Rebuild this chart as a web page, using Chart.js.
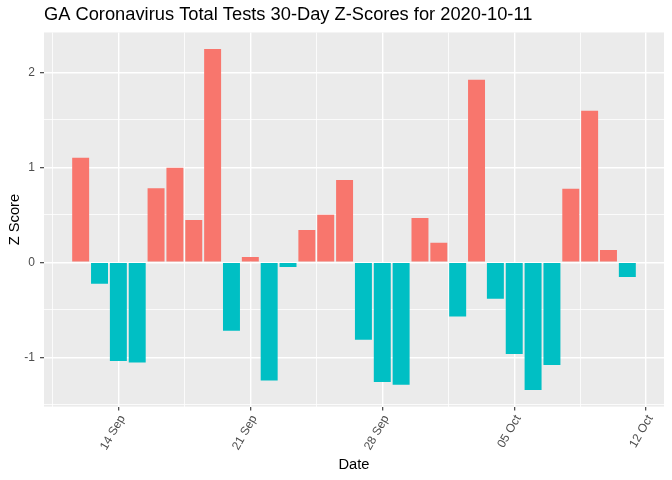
<!DOCTYPE html>
<html>
<head>
<meta charset="utf-8">
<script src="https://cdn.jsdelivr.net/npm/chart.js@4.4.1/dist/chart.umd.min.js"></script>
<style>
  html, body { margin: 0; padding: 0; background: #ffffff; }
  canvas { display: block; }
</style>
</head>
<body>
<canvas id="chart" width="672" height="480"></canvas>
<script>
// Dates of each bar (one per day)
const dates = [
  "2020-09-12", "2020-09-13", "2020-09-14", "2020-09-15", "2020-09-16",
  "2020-09-17", "2020-09-18", "2020-09-19", "2020-09-20", "2020-09-21",
  "2020-09-22", "2020-09-23", "2020-09-24", "2020-09-25", "2020-09-26",
  "2020-09-27", "2020-09-28", "2020-09-29", "2020-09-30", "2020-10-01",
  "2020-10-02", "2020-10-03", "2020-10-04", "2020-10-05", "2020-10-06",
  "2020-10-07", "2020-10-08", "2020-10-09", "2020-10-10", "2020-10-11",
]

// Z score for each day
const zScores = [
  1.10, -0.225, -1.04, -1.055, 0.78,
  0.995, 0.445, 2.245, -0.72, 0.055,
  -1.245, -0.05, 0.34, 0.50, 0.865,
  -0.815, -1.26, -1.29, 0.465, 0.205,
  -0.57, 1.92, -0.385, -0.965, -1.345,
  -1.08, 0.775, 1.595, 0.13, -0.155,
]

// x axis ticks, in days counted from the first date
const xTickDays = [2, 9, 16, 23, 30]
const xTickLabels = ["14 Sep", "21 Sep", "28 Sep", "05 Oct", "12 Oct"]
const xMinorDays = [-1.5, 5.5, 12.5, 19.5, 26.5]

// y axis ticks
const yTicks = [-1, 0, 1, 2]
const yMinorTicks = [-1.5, -0.5, 0.5, 1.5]

const posColor = "#F8766D"
const negColor = "#00BFC4"
const fontFamily = "'Liberation Sans', Arial, sans-serif"

// grey ggplot-style panel behind the bars
const panelBackground = {
  id: "panelBackground",
  beforeDraw(chart) {
    const { ctx, chartArea } = chart
    ctx.save()
    ctx.fillStyle = "#EBEBEB"
    ctx.fillRect(chartArea.left, chartArea.top, chartArea.right - chartArea.left, chartArea.bottom - chartArea.top)
    ctx.restore()
  },
}

const isMajor = (ctx) => ctx.tick && ctx.tick.major

new Chart(document.getElementById("chart"), {
  type: "bar",
  data: {
    datasets: [
      {
        data: zScores.map((v, i) => ({ x: i, y: v })),
        backgroundColor: (c) => (c.raw && c.raw.y >= 0 ? posColor : negColor),
        borderWidth: 0,
        barPercentage: 0.9,
        categoryPercentage: 1.0,
      },
    ],
  },
  options: {
    responsive: false,
    animation: false,
    devicePixelRatio: 1,
    layout: { padding: { left: 0, right: 8, top: 0, bottom: 0 } },
    plugins: {
      legend: { display: false },
      tooltip: { enabled: false },
      title: {
        display: true,
        text: "GA Coronavirus Total Tests 30-Day Z-Scores for " + dates[dates.length - 1],
        align: "start",
        fullSize: false,
        color: "#000000",
        font: { family: fontFamily, size: 18.3, weight: "normal" },
        padding: { top: 4.2, bottom: 6.3 },
      },
    },
    scales: {
      x: {
        type: "linear",
        offset: false,
        min: -1.945,
        max: 30.945,
        afterBuildTicks(scale) {
          const major = xTickDays.map((d) => ({ value: d, major: true }))
          const minor = xMinorDays.map((d) => ({ value: d, major: false }))
          scale.ticks = minor.concat(major).sort((a, b) => a.value - b.value)
        },
        afterFit(scale) {
          scale.height = 73.4
        },
        border: { display: false },
        grid: {
          offset: false,
          color: "#FFFFFF",
          lineWidth: (c) => (isMajor(c) ? 1.4 : 0.8),
          drawTicks: true,
          tickLength: 4,
          tickWidth: 1.1,
          tickColor: (c) => (isMajor(c) ? "#333333" : "rgba(0,0,0,0)"),
        },
        ticks: {
          autoSkip: false,
          minRotation: 60,
          maxRotation: 60,
          padding: 2,
          labelOffset: 4,
          color: "#4D4D4D",
          font: { family: fontFamily, size: 12 },
          callback: (value) => {
            const i = xTickDays.indexOf(value)
            return i >= 0 ? xTickLabels[i] : ""
          },
        },
        title: {
          display: true,
          text: "Date",
          color: "#000000",
          font: { family: fontFamily, size: 14.7 },
          padding: { top: 0, bottom: 6.7 },
        },
      },
      y: {
        min: -1.519,
        max: 2.419,
        afterBuildTicks(scale) {
          const major = yTicks.map((v) => ({ value: v, major: true }))
          const minor = yMinorTicks.map((v) => ({ value: v, major: false }))
          scale.ticks = minor.concat(major).sort((a, b) => a.value - b.value)
        },
        afterFit(scale) {
          scale.width = 44
        },
        border: { display: false },
        grid: {
          color: "#FFFFFF",
          lineWidth: (c) => (isMajor(c) ? 1.4 : 0.8),
          drawTicks: true,
          tickLength: 4,
          tickWidth: 1.1,
          tickColor: (c) => (isMajor(c) ? "#333333" : "rgba(0,0,0,0)"),
        },
        ticks: {
          autoSkip: false,
          padding: 5,
          color: "#4D4D4D",
          font: { family: fontFamily, size: 12 },
          callback: (value) => (yTicks.includes(value) ? String(value) : ""),
        },
        title: {
          display: true,
          text: "Z Score",
          color: "#000000",
          font: { family: fontFamily, size: 14.7 },
          padding: { top: 5.7, bottom: 0 },
        },
      },
    },
  },
  plugins: [panelBackground],
})
</script>
</body>
</html>
